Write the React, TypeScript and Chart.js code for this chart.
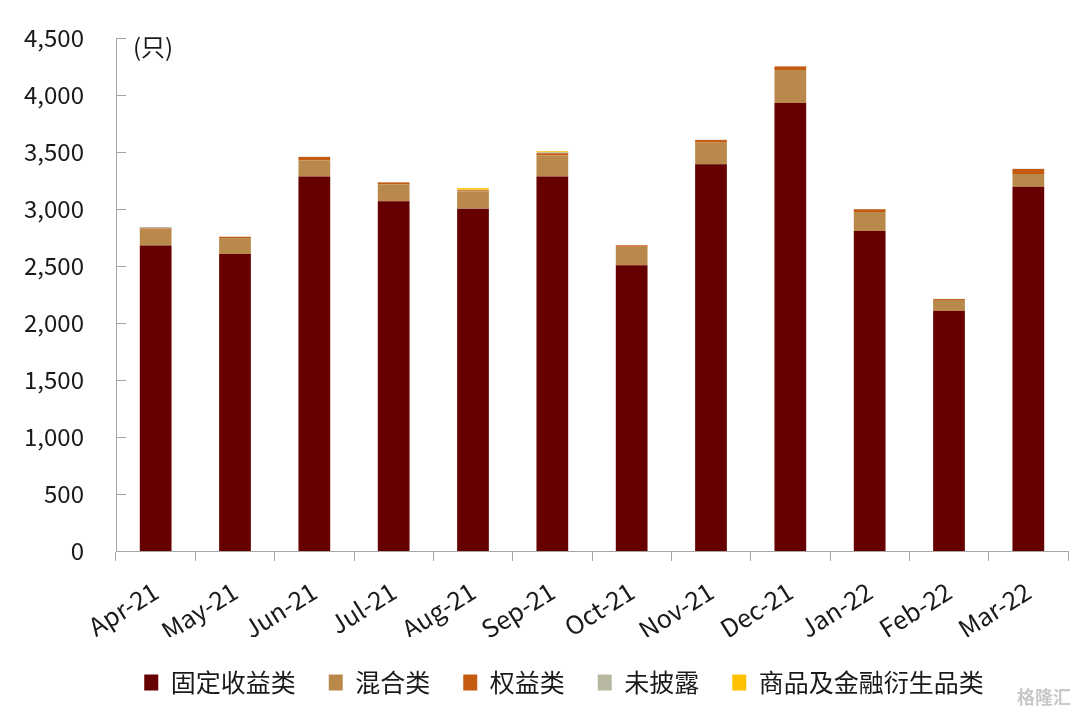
import React, { useEffect, useRef } from "react";
import { Chart, registerables } from "chart.js";

Chart.register(...registerables);

const categories = ["Apr-21", "May-21", "Jun-21", "Jul-21", "Aug-21", "Sep-21", "Oct-21", "Nov-21", "Dec-21", "Jan-22", "Feb-22", "Mar-22"];
const fixedIncome = [2680, 2605, 3285, 3068, 3003, 3284, 2506, 3392, 3930, 2807, 2105, 3196];
const mixed = [138, 140, 140, 149, 152, 187, 163, 190, 289, 167, 97, 111];
const equity = [10, 11, 32, 15, 9, 18, 12, 23, 32, 23, 8, 44];
const undisclosed = [15, 2, 2, 4, 4, 8, 2, 3, 3, 3, 2, 3];
const commodity = [0, 0, 0, 0, 15, 10, 0, 0, 0, 0, 0, 0];
const seriesNames = ["固定收益类", "混合类", "权益类", "未披露", "商品及金融衍生品类"];
const seriesColors = ["#660000", "#B8894A", "#C55A11", "#B8B8A2", "#FFC000"];
const yTicks = [0, 500, 1000, 1500, 2000, 2500, 3000, 3500, 4000, 4500];
const unitLabel = "(只)";
const watermark = "格隆汇";

const FONT = "'Noto Sans CJK SC', 'Noto Sans', sans-serif";
const AXIS_COLOR = "#A6A6A6";

export default function App() {
  const ref = useRef<HTMLCanvasElement>(null);
  useEffect(() => {
    if (!ref.current) return;
    const values = [fixedIncome, mixed, equity, undisclosed, commodity];
    const extras = {
      id: "extras",
      afterLayout(chart: any) {
        if (chart.legend) {
          chart.legend.left += 30;
          chart.legend.right += 30;
        }
      },
      afterDraw(chart: any) {
        const ctx = chart.ctx;
        const y = chart.scales.y;
        const area = chart.chartArea;
        ctx.save();
        ctx.strokeStyle = AXIS_COLOR;
        ctx.lineWidth = 1;
        yTicks.forEach((v) => {
          const py = Math.round(y.getPixelForValue(v)) + 0.5;
          ctx.beginPath();
          ctx.moveTo(area.left, py);
          ctx.lineTo(area.left + 10, py);
          ctx.stroke();
        });
        ctx.fillStyle = "#1a1a1a";
        ctx.font = `24px ${FONT}`;
        ctx.textBaseline = "middle";
        ctx.textAlign = "left";
        ctx.fillText(unitLabel, area.left + 17, y.getPixelForValue(4500) + 9);
        ctx.fillStyle = "#C8C8C8";
        ctx.font = `bold 18px ${FONT}`;
        ctx.fillText(watermark, 1017, 697);
        ctx.restore();
      },
    };
    const chart = new Chart(ref.current, {
      type: "bar",
      data: {
        labels: categories,
        datasets: seriesNames.map((n, i) => ({
          label: n,
          data: values[i],
          backgroundColor: seriesColors[i],
          borderWidth: 0,
          barPercentage: 0.4,
          categoryPercentage: 1,
        })),
      },
      options: {
        responsive: false,
        animation: false,
        layout: { padding: { top: 38, right: 12, bottom: 9, left: 0 } },
        plugins: {
          tooltip: { enabled: false },
          legend: {
            position: "bottom",
            labels: {
              boxWidth: 14,
              boxHeight: 16,
              padding: 33,
              color: "#1a1a1a",
              font: { family: FONT, size: 25 },
            },
          },
        },
        scales: {
          x: {
            stacked: true,
            grid: { display: true, drawOnChartArea: false, drawTicks: true, tickLength: 10, color: AXIS_COLOR, offset: true },
            border: { display: true, color: AXIS_COLOR, width: 1 },
            ticks: {
              color: "#1a1a1a",
              font: { family: FONT, size: 25 },
              minRotation: 32,
              maxRotation: 32,
              padding: 15,
              autoSkip: false,
            },
            afterFit: (s: any) => { s.height = 86; },
          },
          y: {
            stacked: true,
            min: 0,
            max: 4500,
            grid: { display: false, drawTicks: false },
            border: { display: true, color: AXIS_COLOR, width: 1 },
            ticks: {
              stepSize: 500,
              color: "#1a1a1a",
              font: { family: FONT, size: 24 },
              padding: 32,
            },
            afterFit: (s: any) => {
              s.width = 116;
              s.paddingTop = 0;
              s.paddingBottom = 0;
            },
          },
        },
      },
      plugins: [extras],
    });
    return () => chart.destroy();
  }, []);
  return (
    <div style={{ position: "absolute", left: 0, top: 0, width: 1080, height: 714, background: "#fff" }}>
      <canvas ref={ref} width={1080} height={714} />
    </div>
  );
}
